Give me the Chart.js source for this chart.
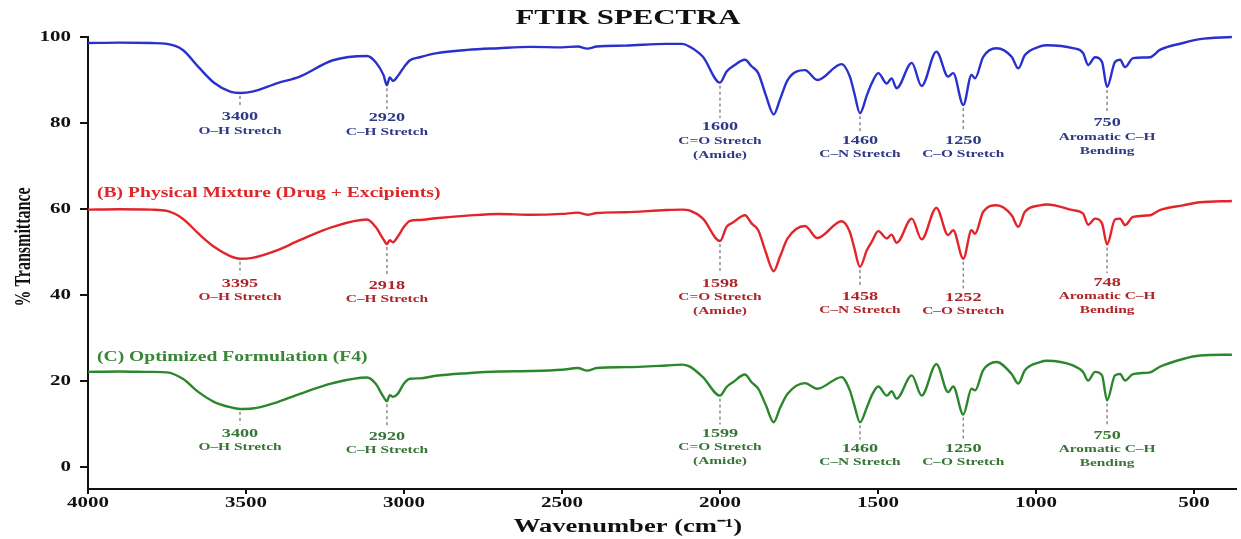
<!DOCTYPE html>
<html>
<head>
<meta charset="utf-8">
<title>FTIR Spectra</title>
<script src="https://cdn.jsdelivr.net/npm/chart.js@4.4.1/dist/chart.umd.min.js"></script>
<style>
  html, body { margin: 0; padding: 0; background: #ffffff; }
  canvas { display: block; }
</style>
</head>
<body>
<canvas id="ftirChart" width="1241" height="539"></canvas>
<script>
// Wavenumber grid (cm-1)
const wavenumbers = [
  4000, 3900, 3800, 3750, 3700, 3650, 3600, 3550, 3519, 3480,
  3400, 3330, 3225, 3117, 3090, 3065, 3054, 3045, 3035, 3020,
  3000, 2981, 2950, 2900, 2800, 2700, 2600, 2500, 2450, 2420,
  2390, 2300, 2170, 2120, 2097, 2054, 2000, 1979, 1959, 1921,
  1900, 1879, 1855, 1830, 1810, 1786, 1731, 1692, 1615, 1589,
  1575, 1557, 1535, 1520, 1499, 1472, 1457, 1441, 1393, 1362,
  1315, 1278, 1262, 1230, 1204, 1193, 1167, 1125, 1077, 1056,
  1035, 987, 965, 883, 851, 835, 813, 791, 775, 750,
  734, 718, 693, 639, 608, 535, 481, 380
];

// % transmittance, top trace (blue)
const spectrumA = [
  98.6, 98.7, 98.6, 98.4, 97.0, 93.0, 89.3, 87.3, 87.0, 87.3,
  89.3, 90.8, 94.6, 95.6, 94.2, 91.2, 88.8, 90.6, 89.8, 90.9,
  93.0, 94.6, 95.3, 96.2, 97.0, 97.4, 97.7, 97.6, 97.8, 97.3,
  97.8, 98.0, 98.4, 98.4, 97.8, 95.4, 89.4, 92.0, 93.2, 94.7,
  93.2, 91.6, 86.5, 82.0, 85.5, 90.0, 92.3, 90.0, 93.7, 90.8,
  87.0, 82.3, 86.5, 89.2, 91.6, 89.2, 90.4, 88.1, 94.0, 88.6,
  96.6, 90.8, 91.6, 84.2, 91.2, 90.4, 95.4, 97.4, 95.4, 92.7,
  95.8, 97.8, 98.1, 97.4, 96.3, 93.5, 95.3, 94.2, 88.4, 94.2,
  94.7, 93.0, 95.1, 95.3, 97.0, 98.6, 99.5, 100.0
];

// (B) Physical Mixture (red)
const spectrumB = [
  59.9, 60.0, 59.9, 59.6, 57.8, 54.3, 51.2, 49.1, 48.5, 48.7,
  50.5, 52.8, 55.9, 57.6, 55.9, 53.0, 51.9, 52.8, 52.3, 53.6,
  55.9, 57.3, 57.5, 57.9, 58.5, 58.9, 58.7, 58.9, 59.2, 58.7,
  59.1, 59.3, 59.8, 59.9, 59.7, 57.8, 52.6, 55.9, 56.9, 58.6,
  56.7, 55.1, 50.0, 45.6, 49.0, 53.2, 56.1, 53.3, 57.2, 54.7,
  51.0, 46.6, 50.5, 52.4, 54.9, 53.2, 54.1, 52.2, 57.8, 53.0,
  60.3, 54.0, 55.1, 48.5, 55.1, 54.3, 59.4, 60.9, 58.6, 55.9,
  59.4, 60.9, 61.1, 59.8, 59.0, 56.4, 57.8, 56.7, 51.8, 57.6,
  57.8, 56.3, 58.2, 58.6, 59.8, 60.9, 61.6, 61.9
];

// (C) Optimized Formulation F4 (green)
const spectrumC = [
  22.2, 22.3, 22.2, 22.1, 20.6, 17.5, 15.2, 14.0, 13.6, 13.7,
  15.2, 17.1, 19.6, 20.9, 19.5, 16.4, 15.4, 16.8, 16.4, 17.1,
  19.5, 20.6, 20.7, 21.3, 21.9, 22.3, 22.4, 22.7, 23.1, 22.5,
  23.1, 23.3, 23.7, 23.9, 23.5, 21.0, 16.7, 18.7, 19.8, 21.6,
  19.8, 18.3, 14.5, 10.5, 13.8, 17.1, 19.6, 18.3, 21.0, 17.9,
  14.5, 10.5, 14.0, 16.7, 18.8, 16.7, 17.7, 16.0, 21.4, 16.7,
  24.0, 17.5, 18.8, 12.3, 18.3, 17.9, 22.6, 24.5, 21.7, 19.5,
  22.6, 24.5, 24.8, 23.7, 22.2, 20.2, 22.2, 21.4, 15.6, 21.4,
  21.7, 20.2, 21.7, 22.1, 23.4, 25.2, 26.0, 26.2
];

const xTicks = [4000, 3500, 3000, 2500, 2000, 1500, 1000, 500];
const yTicks = [0, 20, 40, 60, 80, 100];

// marked bands: where the dashed line sits on the axis, and the printed text
const peakWavenumbers = [3519, 3054, 2000, 1557, 1230, 775];
const peakLabelsA = ['3400', '2920', '1600', '1460', '1250', '750'];
const peakLabelsB = ['3395', '2918', '1598', '1458', '1252', '748'];
const peakLabelsC = ['3400', '2920', '1599', '1460', '1250', '750'];
const bandNames = [
  ['O\u2013H Stretch'],
  ['C\u2013H Stretch'],
  ['C=O Stretch', '(Amide)'],
  ['C\u2013N Stretch'],
  ['C\u2013O Stretch'],
  ['Aromatic C\u2013H', 'Bending']
];

// ---- look ----
const SERIF = '"Liberation Serif", "Times New Roman", serif';
const STRETCH = 1.4; // the picture is drawn wide

const traces = [
  { values: spectrumA, line: '#2a30cc', text: '#2f3a86', labels: peakLabelsA,
    rows: [81.4, 81.2, 79.1, 76.0, 76.0, 80.0], name: null },
  { values: spectrumB, line: '#e2252a', text: '#b02529', labels: peakLabelsB,
    rows: [42.8, 42.3, 42.8, 39.8, 39.5, 43.0],
    name: '(B) Physical Mixture (Drug + Excipients)', nameColor: '#df272a', nameY: 193 },
  { values: spectrumC, line: '#2c872c', text: '#367536', labels: peakLabelsC,
    rows: [7.9, 7.2, 7.9, 4.4, 4.4, 7.4],
    name: '(C) Optimized Formulation (F4)', nameColor: '#388738', nameY: 357 }
];

function wideText(ctx, text, x, y, font, color, align) {
  ctx.save();
  ctx.font = font;
  ctx.fillStyle = color;
  ctx.textAlign = align || 'center';
  ctx.textBaseline = 'middle';
  ctx.translate(x, y);
  ctx.scale(STRETCH, 1);
  ctx.fillText(text, 0, 0);
  ctx.restore();
}

const notesPlugin = {
  id: 'ftirNotes',
  afterDraw(chart) {
    const { ctx, scales: { x, y } } = chart;

    // tick labels
    x.ticks.forEach(t => {
      wideText(ctx, String(t.value), x.getPixelForValue(t.value), 503, 'bold 15px ' + SERIF, '#111', 'center');
    });
    y.ticks.forEach(t => {
      wideText(ctx, String(t.value), 71, y.getPixelForValue(t.value), 'bold 15px ' + SERIF, '#111', 'right');
    });

    // titles
    wideText(ctx, 'FTIR SPECTRA', 628, 18, 'bold 22px ' + SERIF, '#111', 'center');
    wideText(ctx, 'Wavenumber (cm\u207B\u00B9)', 628, 527, 'bold 19px ' + SERIF, '#111', 'center');
    ctx.save();
    ctx.font = 'bold 16px ' + SERIF;
    ctx.fillStyle = '#111';
    ctx.textAlign = 'center';
    ctx.textBaseline = 'middle';
    ctx.translate(24, 247);
    ctx.rotate(-Math.PI / 2);
    ctx.scale(1, STRETCH);
    ctx.fillText('% Transmittance', 0, 0);
    ctx.restore();

    // series names and band notes
    traces.forEach(tr => {
      if (tr.name) {
        wideText(ctx, tr.name, 97, tr.nameY, 'bold 14px ' + SERIF, tr.nameColor, 'left');
      }
      peakWavenumbers.forEach((wn, i) => {
        const px = x.getPixelForValue(wn);
        const peakY = y.getPixelForValue(tr.values[wavenumbers.indexOf(wn)]);
        const labelY = y.getPixelForValue(tr.rows[i]);
        ctx.save();
        ctx.strokeStyle = '#8a8a8a';
        ctx.lineWidth = 1.5;
        ctx.setLineDash([3, 3]);
        ctx.beginPath();
        ctx.moveTo(px, peakY + 3);
        ctx.lineTo(px, labelY - 9);
        ctx.stroke();
        ctx.restore();
        wideText(ctx, tr.labels[i], px, labelY, 'bold 13px ' + SERIF, tr.text, 'center');
        bandNames[i].forEach((line, k) => {
          wideText(ctx, line, px, labelY + 14 * (k + 1), 'bold 11px ' + SERIF, tr.text, 'center');
        });
      });
    });
  }
};

new Chart(document.getElementById('ftirChart'), {
  type: 'line',
  data: {
    datasets: traces.map(tr => ({
      data: wavenumbers.map((wn, i) => ({ x: wn, y: tr.values[i] })),
      borderColor: tr.line,
      borderWidth: 2.4,
      pointRadius: 0,
      cubicInterpolationMode: 'monotone',
      clip: 4
    }))
  },
  options: {
    responsive: false,
    animation: false,
    layout: { padding: { top: 37, right: 5, left: 0, bottom: 0 } },
    plugins: { legend: { display: false }, tooltip: { enabled: false } },
    scales: {
      x: {
        type: 'linear',
        reverse: true,
        min: 367,
        max: 4000,
        afterBuildTicks: s => { s.ticks = xTicks.map(v => ({ value: v })); },
        afterFit: s => { s.height = 50; },
        ticks: { display: false },
        grid: { drawOnChartArea: false, color: '#111', lineWidth: 2, tickLength: 5 },
        border: { color: '#111', width: 2 }
      },
      y: {
        min: -5,
        max: 100,
        afterBuildTicks: s => { s.ticks = yTicks.map(v => ({ value: v })); },
        afterFit: s => { s.width = 88; },
        ticks: { display: false },
        grid: { drawOnChartArea: false, color: '#111', lineWidth: 2, tickLength: 8 },
        border: { color: '#111', width: 2 }
      }
    }
  },
  plugins: [notesPlugin]
});
</script>
</body>
</html>
